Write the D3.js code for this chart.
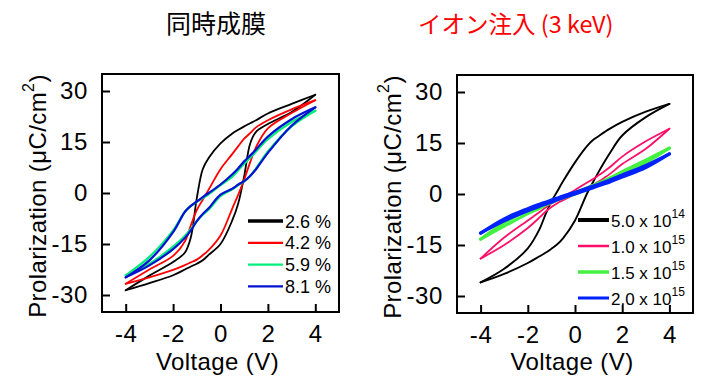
<!DOCTYPE html>
<html lang="ja">
<head>
<meta charset="UTF-8">
<title>P-V loops</title>
<script src="https://d3js.org/d3.v7.min.js"></script>
<style>
  body { margin: 0; background: #fff; }
  text { fill: #000; }
</style>
</head>
<body>
<svg id="chart" width="701" height="376"></svg>
<script>
// shared voltage grid (V) for every branch
const voltage = [-4, -3, -2, -1.5, -1.25, -1, -0.75, -0.5, 0, 0.5, 0.75, 1, 1.25, 1.5, 2, 3, 4];

// left: co-deposition, polarization (uC/cm2); upper = down-sweep, lower = up-sweep
const p26Upper = [-28.6, -24.3, -20.3, -17.5, -13, -1.5, 7, 10.3, 14.6, 17.5, 18.6, 19.6, 20.5, 21.4, 23.4, 26.2, 28.9];
const p26Lower = [-28.6, -26.5, -24.2, -22.5, -21.6, -20.8, -19.8, -18.2, -15, -8, -3, 5, 14.5, 18, 20.3, 23.8, 28.9];
const p42Upper = [-26.7, -22.5, -18.5, -14.2, -9.5, -5, -2, 1, 7, 11.5, 13.8, 16, 17.6, 19.3, 21.4, 24.6, 27.3];
const p42Lower = [-26.7, -24.8, -22.6, -21.2, -20.4, -19.6, -18.3, -16.8, -12.5, -4.5, -0.5, 4, 9, 13.5, 19, 23.5, 27.3];
const p59Upper = [-24.2, -18.8, -11, -5.5, -3.8, -2.6, -1.5, -0.4, 2.3, 4.8, 6.7, 8.6, 10.4, 12.2, 15.8, 20.9, 24.2];
const p59Lower = [-24.2, -20.8, -15.8, -12.6, -10.6, -8.3, -6.4, -4.9, -0.9, 1.1, 2.3, 3.4, 5, 7.2, 12.2, 19.6, 24.2];
const p81Upper = [-24.8, -19.8, -11.5, -5.5, -3.8, -2.5, -1.2, 0, 2.5, 5.5, 7.3, 9.3, 11, 12.8, 16.6, 21.7, 25.2];
const p81Lower = [-24.8, -21.3, -16.5, -13.2, -11, -8.3, -6.2, -4.5, -0.5, 1.3, 2.5, 3.5, 5, 7, 11.8, 19.8, 25.2];

// right: ion implantation (3 keV)
const d5e14Upper = [-26, -22, -16, -10.3, -6, -2.2, 0.8, 3.8, 9.3, 14, 15.8, 17, 18.2, 19.3, 21.2, 24.2, 26.5];
const d5e14Lower = [-26, -23.5, -20.3, -18.3, -17.3, -16.1, -14.8, -13, -7.8, 0, 3.3, 6.5, 9.5, 12.3, 17.2, 22.6, 26.5];
const d1e15Upper = [-19, -12.8, -7.8, -5.3, -4, -2.8, -1.8, -0.8, 1.2, 3.3, 4.3, 5.5, 6.7, 8, 11, 15.5, 19.2];
const d1e15Lower = [-19, -15, -10, -6.9, -5.2, -3.8, -2.7, -1.8, 0, 1.8, 2.7, 3.7, 4.8, 6, 8.8, 13.3, 19.2];
const d15e15Upper = [-13.3, -8.5, -4.8, -3.3, -2.6, -1.9, -1.3, -0.7, 0.5, 1.8, 2.5, 3.3, 4, 4.8, 6.6, 10, 13.5];
const d15e15Lower = [-13.3, -9.5, -5.8, -4.2, -3.3, -2.5, -1.8, -1.2, 0, 1.3, 2, 2.7, 3.4, 4.1, 5.8, 9.2, 13.5];
const d2e15Upper = [-11.5, -7.3, -4.3, -3, -2.4, -1.8, -1.2, -0.6, 0.5, 1.7, 2.3, 2.9, 3.5, 4.2, 5.6, 8.4, 11.8];
const d2e15Lower = [-11.5, -7.9, -4.9, -3.6, -3, -2.4, -1.7, -1.1, 0, 1.2, 1.8, 2.4, 3, 3.6, 5, 7.8, 11.8];

const xTicks = [-4, -2, 0, 2, 4];
const yTicks = [-30, -15, 0, 15, 30];

const leftLabels = ["2.6 %", "4.2 %", "5.9 %", "8.1 %"];
const rightMantissa = ["5.0 x 10", "1.0 x 10", "1.5 x 10", "2.0 x 10"];
const rightExponent = ["14", "15", "15", "15"];

const latin = "Liberation Sans, Arial, sans-serif";
const cjk = "'Noto Sans CJK JP', sans-serif";

const svg = d3.select("#chart");

const panels = [
  {
    frame: { left: 102, top: 74, right: 339, bottom: 312 },
    yTitleX: 38,
    title: "同時成膜", titleX: 216, titleAnchor: "middle", titleColor: "#000", titleSize: 25,
    series: [
      { upper: p26Upper, lower: p26Lower, color: "#000000", width: 1.8, legendWidth: 3.5 },
      { upper: p42Upper, lower: p42Lower, color: "#ff0000", width: 1.8, legendWidth: 2.3 },
      { upper: p59Upper, lower: p59Lower, color: "#00ee7a", width: 2.2, legendWidth: 2.3 },
      { upper: p81Upper, lower: p81Lower, color: "#0010d0", width: 2.2, legendWidth: 2.3 }
    ],
    legend: { x1: 248, x2: 283, y0: 221, step: 21.8, size: 18 }
  },
  {
    frame: { left: 457, top: 75, right: 693, bottom: 313 },
    yTitleX: 393,
    title: "イオン注入 (3 keV)", titleX: 418, titleAnchor: "start", titleColor: "#ff0000", titleSize: 23.5,
    series: [
      { upper: d5e14Upper, lower: d5e14Lower, color: "#000000", width: 1.9, legendWidth: 4 },
      { upper: d1e15Upper, lower: d1e15Lower, color: "#ff0f6a", width: 1.8, legendWidth: 2.5 },
      { upper: d15e15Upper, lower: d15e15Lower, color: "#44f040", width: 3, legendWidth: 3.5 },
      { upper: d2e15Upper, lower: d2e15Lower, color: "#0022ff", width: 3.2, legendWidth: 3 }
    ],
    legend: { x1: 578, x2: 609, y0: 220, step: 26, size: 17 }
  }
];

function drawPanel(p, idx) {
  const f = p.frame;
  const x = d3.scaleLinear().domain([-5, 5]).range([f.left, f.right]);
  const y = d3.scaleLinear().domain([-35, 35]).range([f.bottom, f.top]);

  const g = svg.append("g");

  // curves
  const line = d3.line()
    .x(d => x(d[0]))
    .y(d => y(d[1]))
    .curve(d3.curveCatmullRom.alpha(0.5));

  p.series.forEach(s => {
    [s.upper, s.lower].forEach(branch => {
      g.append("path")
        .attr("d", line(voltage.map((v, i) => [v, branch[i]])))
        .attr("fill", "none")
        .attr("stroke", s.color)
        .attr("stroke-width", s.width)
        .attr("stroke-linejoin", "round")
        .attr("stroke-linecap", "round");
    });
  });

  // axes with inward ticks, plain hyphen minus like the original
  const yAxis = g.append("g")
    .attr("transform", "translate(" + f.left + ",0)")
    .call(d3.axisLeft(y).tickValues(yTicks).tickFormat(d => String(d))
      .tickSize(-8).tickSizeOuter(0).tickPadding(14));
  const xAxis = g.append("g")
    .attr("transform", "translate(0," + f.bottom + ")")
    .call(d3.axisBottom(x).tickValues(xTicks).tickFormat(d => String(d))
      .tickSize(-8).tickSizeOuter(0).tickPadding(13));

  [yAxis, xAxis].forEach(a => {
    a.select(".domain").remove();
    a.selectAll("line").attr("stroke", "#000").attr("stroke-width", 2);
    a.selectAll("text")
      .style("font-family", latin)
      .style("letter-spacing", "0.6px")
      .attr("font-size", 24)
      .attr("fill", "#000");
  });

  g.append("rect")
    .attr("x", f.left).attr("y", f.top)
    .attr("width", f.right - f.left).attr("height", f.bottom - f.top)
    .attr("fill", "none").attr("stroke", "#000").attr("stroke-width", 2);

  // axis titles
  const yt = g.append("text")
    .attr("transform", "translate(" + p.yTitleX + "," + ((f.top + f.bottom) / 2 + 3) + ") rotate(-90)")
    .attr("text-anchor", "middle")
    .attr("dy", "0.35em")
    .style("font-family", latin)
    .style("letter-spacing", "0.4px")
    .attr("font-size", 24);
  yt.append("tspan").text("Prolarization (μC/cm");
  yt.append("tspan").attr("font-size", 16).attr("dy", -12).text("2");
  yt.append("tspan").attr("dy", 12).text(")");

  g.append("text")
    .attr("x", (f.left + f.right) / 2 - 3)
    .attr("y", 370)
    .attr("text-anchor", "middle")
    .style("font-family", latin)
    .style("letter-spacing", "0.4px")
    .attr("font-size", 24)
    .text("Voltage (V)");

  // panel title
  g.append("text")
    .attr("x", p.titleX)
    .attr("y", 33)
    .attr("text-anchor", p.titleAnchor)
    .style("font-family", cjk)
    .style("font-weight", 400)
    .attr("font-size", p.titleSize)
    .style("fill", p.titleColor)
    .text(p.title);

  // legend
  const L = p.legend;
  p.series.forEach((s, i) => {
    const ly = L.y0 + i * L.step;
    g.append("line")
      .attr("x1", L.x1).attr("x2", L.x2)
      .attr("y1", ly).attr("y2", ly)
      .attr("stroke", s.color)
      .attr("stroke-width", s.legendWidth);
    const t = g.append("text")
      .attr("x", L.x2 + 2)
      .attr("y", ly + 6.5)
      .style("font-family", latin)
      .attr("font-size", L.size);
    if (idx === 0) {
      t.text(leftLabels[i]);
    } else {
      t.append("tspan").text(rightMantissa[i]);
      t.append("tspan").attr("font-size", 12).attr("dy", -9).text(rightExponent[i]);
    }
  });
}

panels.forEach(drawPanel);
</script>
</body>
</html>
